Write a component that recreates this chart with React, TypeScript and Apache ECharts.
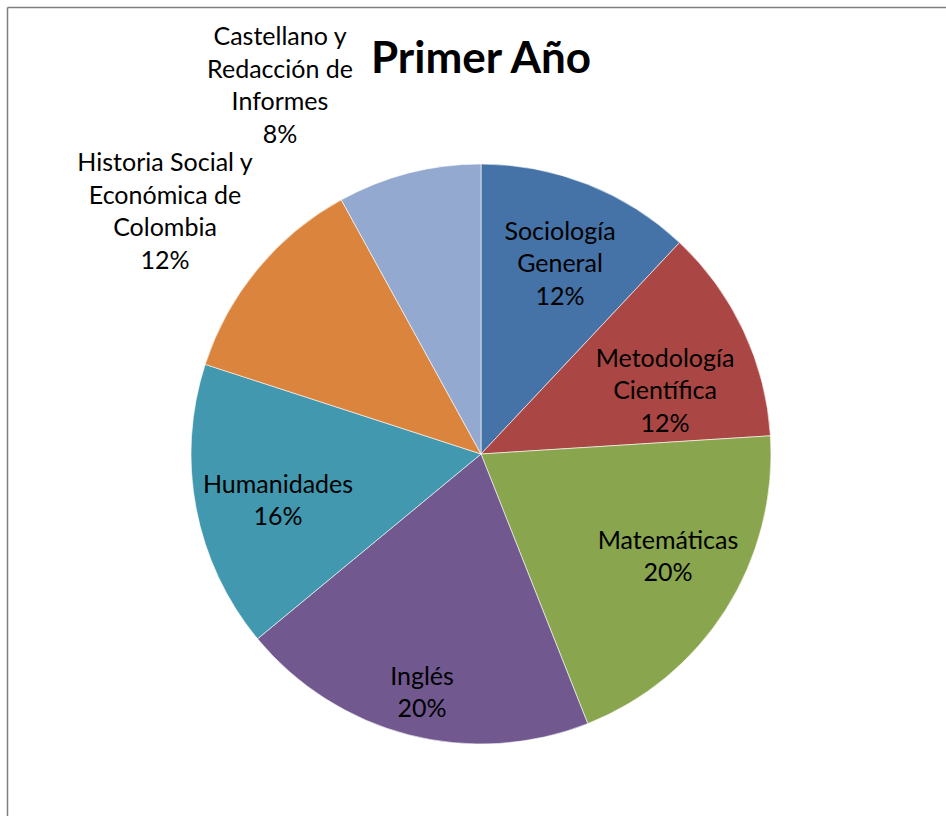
import React, { useEffect, useRef } from "react";
import * as echarts from "echarts";

const chartTitle = "Primer Año";
const categories = [
  "Sociología\nGeneral",
  "Metodología\nCientífica",
  "Matemáticas",
  "Inglés",
  "Humanidades",
  "Historia Social y\nEconómica de\nColombia",
  "Castellano y\nRedacción de\nInformes",
];
const values = [12, 12, 20, 20, 16, 12, 8];
const colors = ["#4572A7", "#AA4643", "#89A54E", "#71588F", "#4198AF", "#DB843D", "#93A9CF"];
// label centres (px), like Excel's best-fit placement
const labelPos: [number, number][] = [
  [560, 262],
  [665, 389],
  [668, 555],
  [422, 691],
  [278, 499],
  [165, 210],
  [280, 84],
];

const FONT = "Lato, 'Open Sans', sans-serif";

export default function App() {
  const ref = useRef<HTMLDivElement>(null);
  useEffect(() => {
    if (!ref.current) return;
    const chart = echarts.init(ref.current, null, { renderer: "svg" });
    chart.setOption({
      animation: false,
      backgroundColor: "#ffffff",
      title: {
        text: chartTitle,
        left: 476,
        top: 29,
        textAlign: "center",
        textStyle: { fontFamily: FONT, fontSize: 44, fontWeight: "bold", color: "#000" },
      },
      graphic: [
        { type: "line", shape: { x1: 7.5, y1: 7.5, x2: 946, y2: 7.5 }, style: { stroke: "#808080", lineWidth: 1.5 } },
        { type: "line", shape: { x1: 7.5, y1: 7.5, x2: 7.5, y2: 816 }, style: { stroke: "#808080", lineWidth: 1.5 } },
      ],
      series: [
        {
          type: "pie",
          center: [481, 454],
          radius: 290,
          startAngle: 90,
          clockwise: true,
          avoidLabelOverlap: false,
          silent: true,
          itemStyle: { borderColor: "#ffffff", borderWidth: 0.6 },
          label: {
            show: true,
            position: "inside",
            formatter: "{b}\n{c}%",
            fontFamily: FONT,
            fontSize: 25,
            lineHeight: 32.5,
            color: "#000",
            align: "center",
            verticalAlign: "middle",
          },
          labelLine: { show: false },
          labelLayout: (p: any) => {
            const pos = labelPos[p.dataIndex];
            return { x: pos[0], y: pos[1], align: "center", verticalAlign: "middle" };
          },
          data: categories.map((name, i) => ({
            name,
            value: values[i],
            itemStyle: { color: colors[i] },
          })),
        },
      ],
    });
    return () => chart.dispose();
  }, []);
  return (
    <div
      ref={ref}
      style={{ position: "fixed", left: 0, top: 0, width: 946, height: 816 }}
    />
  );
}
